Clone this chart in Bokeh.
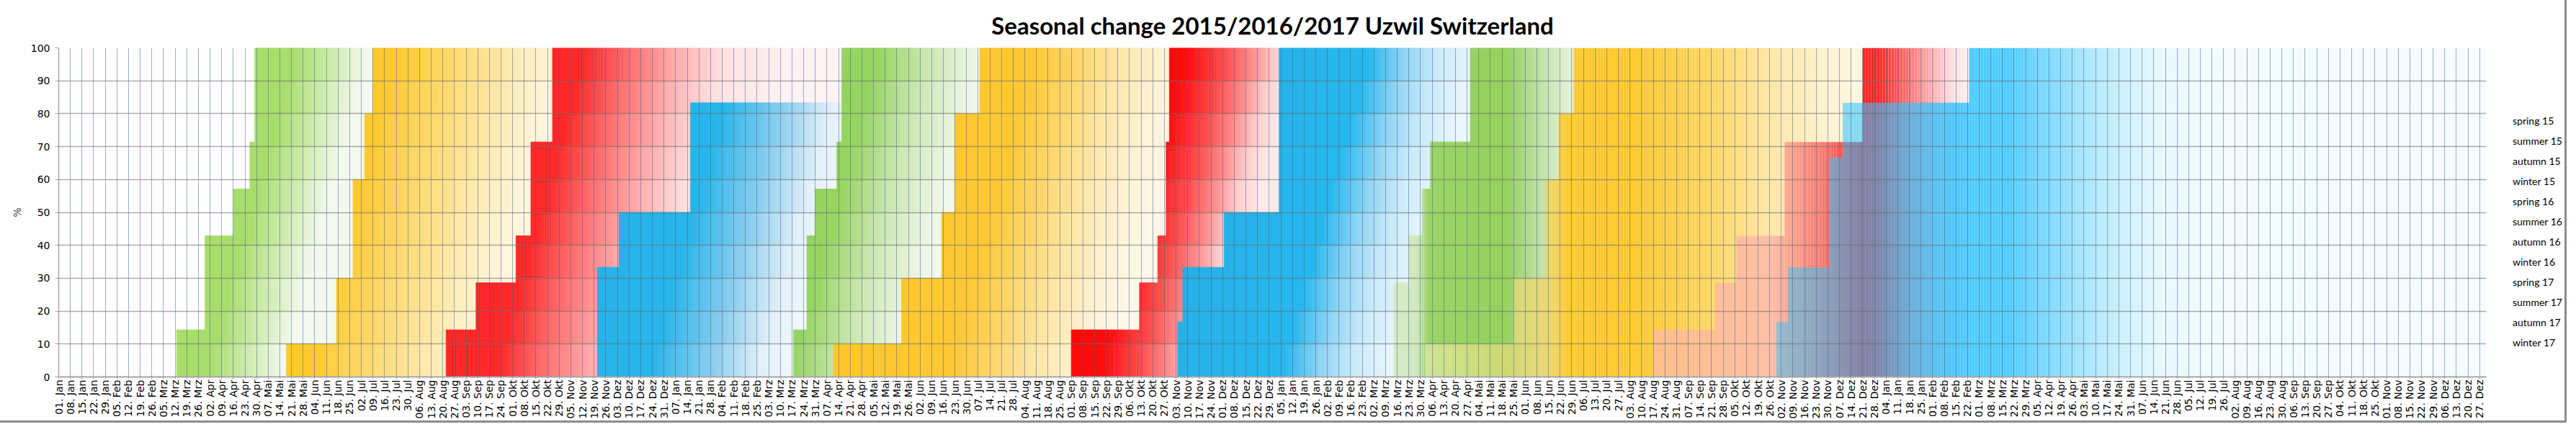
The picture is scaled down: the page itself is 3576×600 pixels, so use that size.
import math
import datetime as dt
from bokeh.plotting import figure
from bokeh.layouts import row
from bokeh.models import Range1d, FixedTicker, Legend, LegendItem, ColumnDataSource
from bokeh.embed import file_html
from bokeh.resources import INLINE

# ---------------------------------------------------------------- data
title_text = "Seasonal change 2015/2016/2017 Uzwil Switzerland"
axis_start = "2015-01-01"
axis_end = "2018-12-31"
month_abbr = ["Jan", "Feb", "Mrz", "Apr", "Mai", "Jun", "Jul", "Aug", "Sep", "Okt", "Nov", "Dez"]
y_ticks = [0, 10, 20, 30, 40, 50, 60, 70, 80, 90, 100]

series_names = ["spring 15", "summer 15", "autumn 15", "winter 15",
                "spring 16", "summer 16", "autumn 16", "winter 16",
                "spring 17", "summer 17", "autumn 17", "winter 17"]

# each series: date at which a new percentage starts, and that percentage
spring15_dates = ["2015-03-13", "2015-03-30", "2015-04-16", "2015-04-26", "2015-04-29"]
spring15_values = [14.3, 42.9, 57.1, 71.4, 100.0]
summer15_dates = ["2015-05-18", "2015-06-17", "2015-06-27", "2015-07-04", "2015-07-09"]
summer15_values = [10.0, 30.0, 60.0, 80.0, 100.0]
autumn15_dates = ["2015-08-22", "2015-09-09", "2015-10-03", "2015-10-12", "2015-10-25"]
autumn15_values = [14.3, 28.6, 42.9, 71.4, 100.0]
winter15_dates = ["2015-11-21", "2015-12-04", "2016-01-16"]
winter15_values = [33.3, 50.0, 83.3]
spring16_dates = ["2016-03-18", "2016-03-26", "2016-03-31", "2016-04-13", "2016-04-16"]
spring16_values = [14.3, 42.9, 57.1, 71.4, 100.0]
summer16_dates = ["2016-04-11", "2016-05-22", "2016-06-15", "2016-06-23", "2016-07-08"]
summer16_values = [10.0, 30.0, 50.0, 80.0, 100.0]
autumn16_dates = ["2016-09-01", "2016-10-12", "2016-10-23", "2016-10-28", "2016-10-30"]
autumn16_values = [14.3, 28.6, 42.9, 71.4, 100.0]
winter16_dates = ["2016-11-04", "2016-11-07", "2016-12-02", "2017-01-04"]
winter16_values = [16.7, 33.3, 50.0, 100.0]
spring17_dates = ["2017-03-14", "2017-03-23", "2017-03-31", "2017-04-05", "2017-04-29"]
spring17_values = [28.6, 42.9, 57.1, 71.4, 100.0]
summer17_dates = ["2017-04-02", "2017-05-25", "2017-06-13", "2017-06-21", "2017-06-30"]
summer17_values = [10.0, 30.0, 60.0, 80.0, 100.0]
autumn17_dates = ["2017-08-17", "2017-09-23", "2017-10-06", "2017-11-04", "2017-12-21"]
autumn17_values = [14.3, 28.6, 42.9, 71.4, 100.0]
winter17_dates = ["2017-10-30", "2017-11-06", "2017-12-01", "2017-12-09", "2018-02-23"]
winter17_values = [16.7, 33.3, 66.7, 83.3, 100.0]
# last day of each series (when the following season covers it)
series_end = ["2015-07-09", "2015-10-25", "2016-04-16", "2016-04-16",
              "2016-07-08", "2016-10-30", "2017-01-04", "2017-04-29",
              "2017-06-30", "2017-12-21", "2018-02-23", "2018-12-31"]

all_dates = [spring15_dates, summer15_dates, autumn15_dates, winter15_dates,
             spring16_dates, summer16_dates, autumn16_dates, winter16_dates,
             spring17_dates, summer17_dates, autumn17_dates, winter17_dates]
all_values = [spring15_values, summer15_values, autumn15_values, winter15_values,
              spring16_values, summer16_values, autumn16_values, winter16_values,
              spring17_values, summer17_values, autumn17_values, winter17_values]

# ---------------------------------------------------------------- styles
# gradient fills: (position, colour, opacity); 'tilt' slants the gradient (days across full height)
SEASON_STYLE = {
    "spring 15": dict(tilt=56, stops=[("2015-03-13", "#A6DC68", 1), ("2015-05-25", "#A8DD6B", 1),
                                      ("2015-07-09", "#F3F9EE", 1)]),
    "summer 15": dict(tilt=56, stops=[("2015-05-18", "#FFC41F", 1), ("2015-07-25", "#FFC92E", 1),
                                      ("2015-09-03", "#FFDC78", 1), ("2015-10-13", "#FFEEC0", 1),
                                      ("2015-11-02", "#FFF6E0", 1)]),
    "autumn 15": dict(tilt=56, stops=[("2015-08-22", "#FF2323", 1), ("2015-11-15", "#FF2828", 1),
                                      ("2015-12-12", "#FF6E6E", 1), ("2016-01-11", "#FFAFAF", 1),
                                      ("2016-02-07", "#FFE0E0", 1), ("2016-03-16", "#FFF0F2", 1),
                                      ("2016-04-25", "#FFF5F6", 1)]),
    "winter 15": dict(tilt=56, stops=[("2015-11-21", "#24B1E7", 1), ("2016-02-15", "#27B5EA", 1),
                                      ("2016-03-24", "#8ECFEF", 1), ("2016-04-21", "#E2F0F8", 1),
                                      ("2016-05-10", "#F2F8FB", 1)]),
    "spring 16": dict(tilt=56, stops=[("2016-03-18", "#93D25D", 1), ("2016-05-10", "#96D360", 1),
                                      ("2016-06-09", "#CBE7B1", 1), ("2016-07-09", "#EDF6E6", 1),
                                      ("2016-08-03", "#F9FCF6", 1)]),
    "summer 16": dict(tilt=56, stops=[("2016-04-11", "#FFC524", 1), ("2016-08-13", "#FFC833", 1),
                                      ("2016-09-07", "#FFD66A", 1), ("2016-10-02", "#FFE6A6", 1),
                                      ("2016-10-30", "#FFF3D6", 1), ("2016-11-21", "#FFF8EA", 1)]),
    "autumn 16": dict(tilt=56, stops=[("2016-09-01", "#FF0505", 1), ("2016-11-11", "#FF0A0A", 1),
                                      ("2016-12-06", "#FF5050", 1), ("2016-12-21", "#FF8A8A", 1),
                                      ("2017-01-05", "#FFD0D0", 1), ("2017-01-18", "#FFEAEA", 1)]),
    "winter 16": dict(tilt=56, stops=[("2016-11-04", "#25ACE2", 1), ("2017-03-01", "#26B7EE", 1),
                                      ("2017-03-23", "#8ED4F4", 1), ("2017-04-12", "#C9EAF9", 1),
                                      ("2017-05-05", "#EAF6FC", 1), ("2017-05-25", "#F6FBFE", 1)]),
    "spring 17": dict(tilt=0, stops=[("2017-03-14", "#D6EBC6", 1), ("2017-03-29", "#D0E8BE", 1),
                                     ("2017-04-04", "#9AD466", 1), ("2017-05-20", "#95D15E", 1),
                                     ("2017-06-04", "#B2DC92", 1), ("2017-06-19", "#D2EAC0", 1),
                                     ("2017-07-01", "#E8F4E0", 1)]),
    "summer 17": dict(tilt=0, stops=[("2017-04-02", "#FFF2C0", 0.55), ("2017-05-20", "#FFE080", 0.55),
                                     ("2017-06-14", "#FFD050", 0.65), ("2017-06-27", "#FFC620", 0.95),
                                     ("2017-08-03", "#FFC722", 1), ("2017-09-17", "#FFD45A", 1),
                                     ("2017-10-27", "#FFE6A2", 1), ("2017-12-01", "#FFF2D0", 1),
                                     ("2017-12-26", "#FFF8E8", 1)]),
    "autumn 17": dict(tilt=0, stops=[("2017-08-17", "#FFB4BE", 0.6), ("2017-10-27", "#FFA8A8", 0.65),
                                     ("2017-11-06", "#FF9A8C", 0.85), ("2017-12-02", "#FF6660", 0.95),
                                     ("2017-12-20", "#FF2222", 1), ("2017-12-30", "#FF2626", 1),
                                     ("2018-01-11", "#FF5858", 1), ("2018-01-28", "#FFA2A2", 1),
                                     ("2018-02-13", "#FFE0E0", 1), ("2018-02-24", "#FFF2F2", 1)]),
    "winter 17": dict(tilt=0, stops=[("2017-10-30", "#2DC3FF", 0.5), ("2017-12-26", "#2DC3FF", 0.6),
                                     ("2018-02-14", "#2DC3FF", 0.85), ("2018-03-18", "#2DC3FF", 0.85),
                                     ("2018-04-04", "#2DC3FF", 0.69), ("2018-04-24", "#2DC3FF", 0.49),
                                     ("2018-05-14", "#2DC3FF", 0.32), ("2018-06-02", "#2DC3FF", 0.19),
                                     ("2018-06-21", "#2DC3FF", 0.10), ("2018-07-24", "#2DC3FF", 0.06),
                                     ("2018-12-31", "#2DC3FF", 0.04)]),
}
legend_colors = ["#A6DC68", "#FFC41F", "#FF2323", "#24B1E7",
                 "#93D25D", "#FFC524", "#FF0505", "#25ACE2",
                 "#E6F3DD", "#FFF1C8", "#FFD0D6", "#D6F0FB"]

TOTAL_W, FIG_H = 3560, 584
BORDER_L, BORDER_T, BORDER_B, BORDER_R = 81, 64, 55, 10
FRAME_W = 3370
MAIN_W = BORDER_L + FRAME_W + BORDER_R
LEG_W = TOTAL_W - MAIN_W
STRIP_PX = 4
BAND = 10.0

# ---------------------------------------------------------------- helpers
ORIGIN = dt.date.fromisoformat(axis_start)


def to_day(s):
    return (dt.date.fromisoformat(s) - ORIGIN).days


N_DAYS = to_day(axis_end)
PX_PER_DAY = FRAME_W / N_DAYS


def hex2rgb(h):
    return tuple(int(h[i:i + 2], 16) for i in (1, 3, 5))


def rgb2hex(c):
    return "#%02x%02x%02x" % tuple(max(0, min(255, int(round(v)))) for v in c)


def grad(stops, e):
    if e <= stops[0][0]:
        return stops[0][1], stops[0][2]
    for (d0, c0, a0), (d1, c1, a1) in zip(stops, stops[1:]):
        if e <= d1:
            t = (e - d0) / (d1 - d0) if d1 > d0 else 1.0
            return tuple(c0[k] + (c1[k] - c0[k]) * t for k in range(3)), a0 + (a1 - a0) * t
    return stops[-1][1], stops[-1][2]


def build_quads(dates, values, end, style):
    starts = [to_day(d) for d in dates]
    stops = [(to_day(d), hex2rgb(c), a) for d, c, a in style["stops"]]
    tilt = style["tilt"]
    L, R, B, T, C, A = [], [], [], [], [], []
    edges = starts + [to_day(end)]
    for i, v in enumerate(values):
        a, b = edges[i], edges[i + 1]
        if b <= a:
            continue
        step = STRIP_PX / PX_PER_DAY
        k0 = int(math.floor(a / step)) + 1
        k1 = int(math.ceil(b / step)) - 1
        xs = [a] + [k * step for k in range(k0, k1 + 1) if a < k * step < b] + [b]
        if tilt > 0:
            ys = [0.0]
            y = BAND
            while y < v - 1e-9:
                ys.append(y)
                y += BAND
            ys.append(v)
        else:
            ys = [0.0, v]
        for x0, x1 in zip(xs, xs[1:]):
            xm = 0.5 * (x0 + x1)
            first = True
            for y0, y1 in zip(ys, ys[1:]):
                ym = 0.5 * (y0 + y1)
                e = xm + tilt * (1 - ym / 100.0)
                rgb, al = grad(stops, e)
                col = rgb2hex(rgb)
                al = round(al, 3)
                if not first and C[-1] == col and A[-1] == al:
                    T[-1] = y1
                else:
                    L.append(x0); R.append(x1); B.append(y0); T.append(y1)
                    C.append(col); A.append(al)
                first = False
    return dict(left=L, right=R, bottom=B, top=T, color=C, alpha=A)


# ---------------------------------------------------------------- main figure
p = figure(width=MAIN_W, height=FIG_H,
           x_range=Range1d(0, N_DAYS), y_range=Range1d(0, 100),
           output_backend="svg", toolbar_location=None,
           min_border_left=BORDER_L, min_border_right=BORDER_R,
           min_border_top=BORDER_T, min_border_bottom=BORDER_B)
p.background_fill_color = "white"
p.border_fill_color = "white"
p.outline_line_color = None

for name, dates, vals, end in zip(series_names, all_dates, all_values, series_end):
    st = SEASON_STYLE[name]
    src = ColumnDataSource(build_quads(dates, vals, end, st))
    opaque = all(s[2] >= 1 for s in st["stops"])
    if opaque:
        p.quad(source=src, left="left", right="right", bottom="bottom", top="top",
               fill_color="color", fill_alpha="alpha", line_color="color", line_width=0.8)
    else:
        p.quad(source=src, left="left", right="right", bottom="bottom", top="top",
               fill_color="color", fill_alpha="alpha", line_color=None)

# axes
tick_days = list(range(0, N_DAYS + 1, 7))
tick_labels = []
for d in tick_days:
    day = ORIGIN + dt.timedelta(days=d)
    tick_labels.append("%02d. %s" % (day.day, month_abbr[day.month - 1]))

xt = FixedTicker(ticks=tick_days)
p.xaxis.ticker = xt
p.xgrid.ticker = xt
p.xaxis.major_label_overrides = {d: lab for d, lab in zip(tick_days, tick_labels)}
p.xaxis.major_label_orientation = math.pi / 2
p.xaxis.major_label_text_font = "DejaVu Sans"
p.xaxis.major_label_text_font_size = "14px"
p.xaxis.major_label_text_color = "#000000"
p.xaxis.major_label_standoff = 1
p.xaxis.major_tick_out = 3
p.xaxis.major_tick_in = 0
p.xaxis.minor_tick_line_color = None
p.xaxis.axis_line_color = "#A6A6A6"
p.xaxis.axis_line_width = 2
p.xaxis.major_tick_line_color = "#A6A6A6"

yt = FixedTicker(ticks=y_ticks)
p.yaxis.ticker = yt
p.ygrid.ticker = yt
p.yaxis.axis_label = "%"
p.yaxis.axis_label_text_font = "DejaVu Sans"
p.yaxis.axis_label_text_font_size = "14px"
p.yaxis.axis_label_text_font_style = "normal"
p.yaxis.axis_label_standoff = 8
p.yaxis.major_label_text_font = "DejaVu Sans"
p.yaxis.major_label_text_font_size = "14px"
p.yaxis.major_label_text_color = "#000000"
p.yaxis.major_label_standoff = 7
p.yaxis.major_tick_out = 5
p.yaxis.major_tick_in = 0
p.yaxis.minor_tick_line_color = None
p.yaxis.axis_line_color = "#A6A6A6"
p.yaxis.axis_line_width = 1.5
p.yaxis.major_tick_line_color = "#A6A6A6"

p.xgrid.grid_line_color = "#3F5F8A"
p.xgrid.grid_line_alpha = 0.5
p.xgrid.grid_line_width = 1
p.xgrid.level = "overlay"
p.ygrid.grid_line_color = "#6B6B6B"
p.ygrid.grid_line_alpha = 0.55
p.ygrid.grid_line_width = 1.5
p.ygrid.level = "overlay"

# title
p.title.text = title_text
p.title.align = "center"
p.title.text_font = "Lato"
p.title.text_font_size = "33px"
p.title.text_font_style = "bold"
p.title.text_color = "#000000"
p.title.standoff = 24

# ---------------------------------------------------------------- legend panel
pl = figure(width=LEG_W, height=FIG_H, x_range=Range1d(0, 1), y_range=Range1d(0, 1),
            output_backend="svg", toolbar_location=None,
            x_axis_type=None, y_axis_type=None, min_border=0)
pl.outline_line_color = None
pl.background_fill_color = "white"
pl.border_fill_color = "white"

items = []
for name, col in zip(series_names, legend_colors):
    r = pl.quad(left=[], right=[], bottom=[], top=[], fill_color=col, line_color=None)
    items.append(LegendItem(label=name, renderers=[r]))
legend = Legend(items=items, location=(15, 37), ncols=1)
legend.label_text_font = "Lato"
legend.label_text_font_size = "14px"
legend.label_text_color = "#000000"
legend.glyph_width = 8
legend.glyph_height = 8
legend.label_standoff = 4
legend.label_height = 21
legend.spacing = 7
legend.padding = 0
legend.margin = 0
legend.border_line_color = None
legend.background_fill_alpha = 0
pl.add_layout(legend)

layout = row(p, pl, spacing=0)
layout.styles = {"box-shadow": "0 0 0 3px #8C8C8C"}

open("out.html", "w").write(file_html(layout, INLINE))
